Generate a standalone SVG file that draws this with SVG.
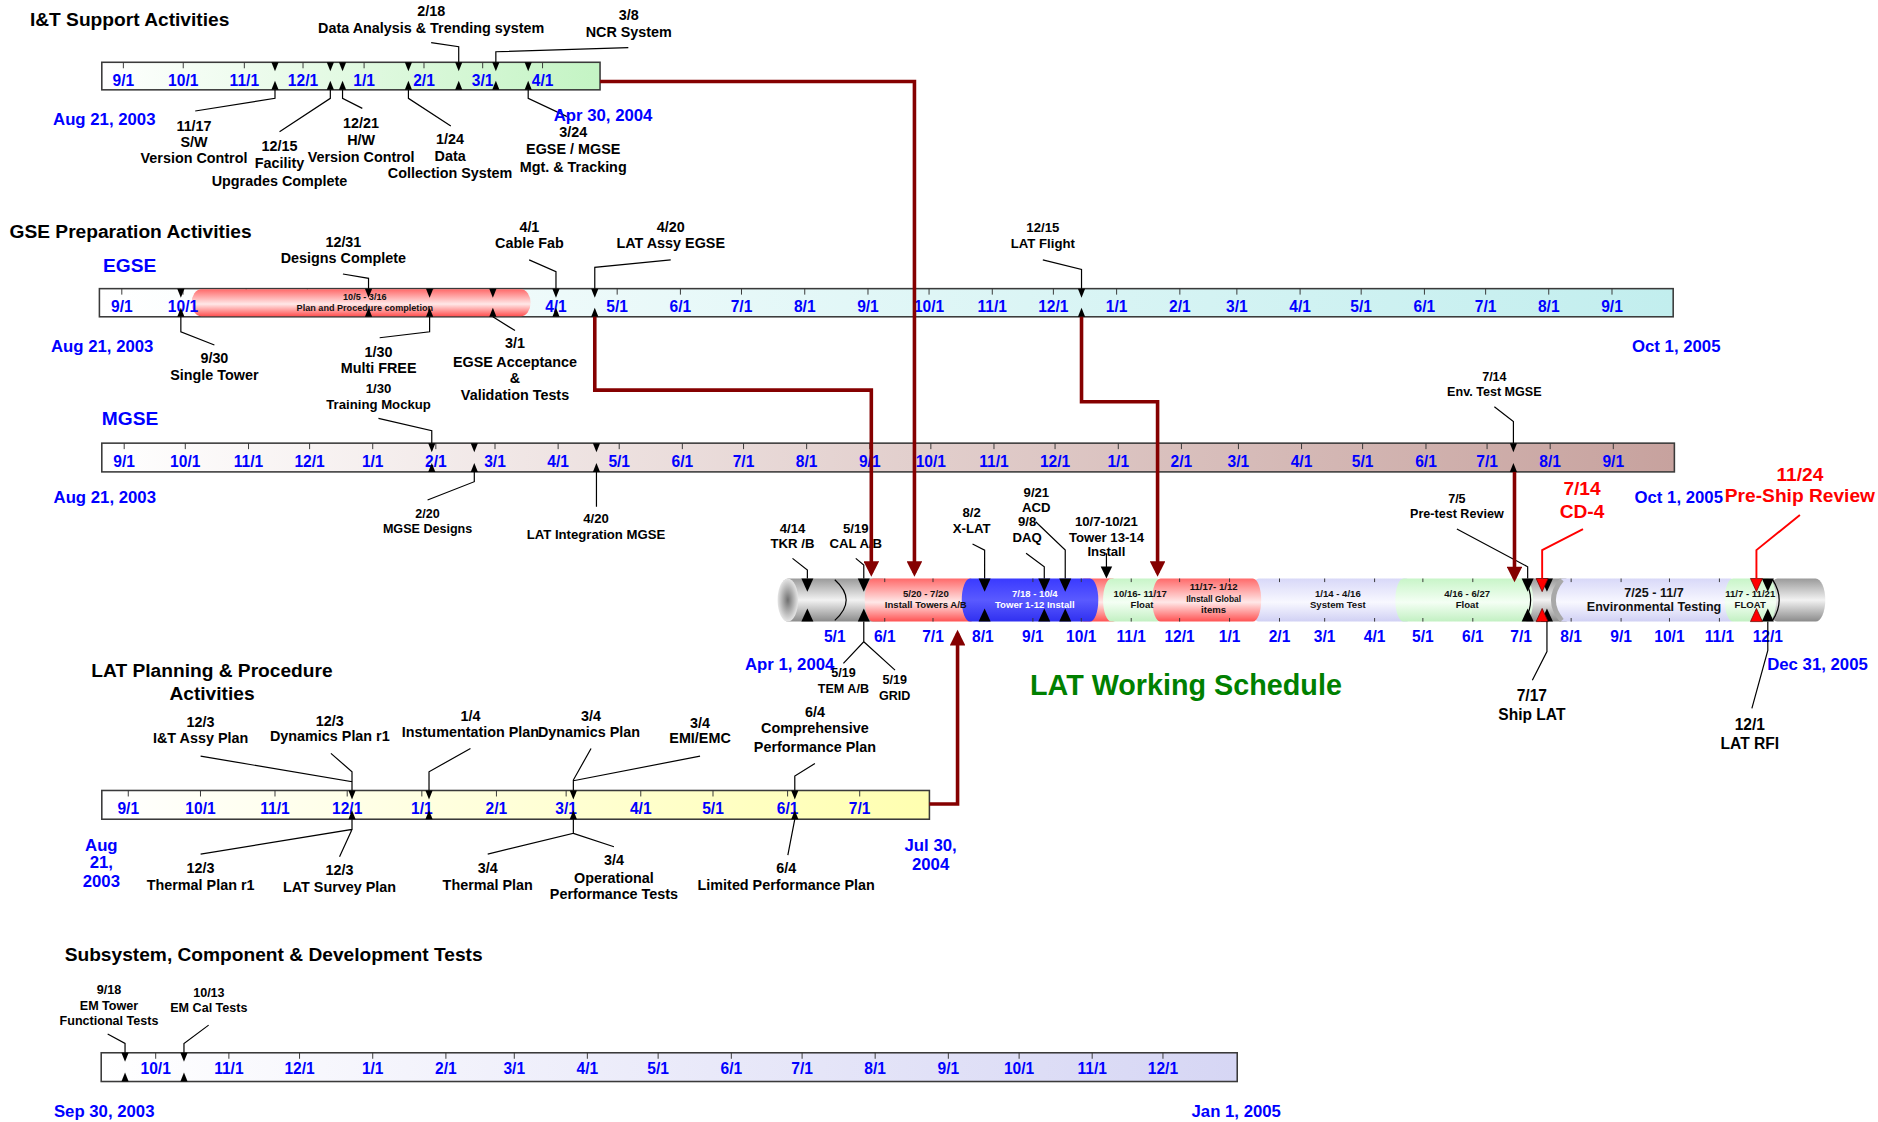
<svg xmlns="http://www.w3.org/2000/svg" xmlns:xlink="http://www.w3.org/1999/xlink" width="1878" height="1122" viewBox="0 0 1878 1122">
<style>
text{font-family:"Liberation Sans",Arial,sans-serif;font-weight:bold}
.h{font-size:16px;fill:#000}
.c12{font-size:12px;fill:#000;text-anchor:middle}
.c11{font-size:11px;fill:#000;text-anchor:middle}
.c10{font-size:10.5px;fill:#000;text-anchor:middle}
.c13{font-size:13px;fill:#000;text-anchor:middle}
.ml{font-size:13px;fill:#0000ff;text-anchor:middle}
.dt{font-size:14px;fill:#0000ff}
.dtc{font-size:14px;fill:#0000ff;text-anchor:middle}
.sec{font-size:16px;fill:#0000ff}
.seg{font-size:8px;fill:#111;text-anchor:middle}
.segw{font-size:8px;fill:#fff;text-anchor:middle}
.red{font-size:16px;fill:#ff0000;text-anchor:middle}
.bar{stroke:#3a3a3a;stroke-width:1.3}
.tick{stroke:#333;stroke-width:0.8;fill:none}
.lead{stroke:#000;stroke-width:1;fill:none}
.rlead{stroke:#ff0000;stroke-width:1.6;fill:none}
.tube{stroke:none}
</style>
<defs>
<linearGradient id="gIT" x1="0" y1="0" x2="1" y2="0"><stop offset="0" stop-color="#ffffff"/><stop offset="1" stop-color="#c4f4c4"/></linearGradient>
<linearGradient id="gEG" x1="0" y1="0" x2="1" y2="0"><stop offset="0" stop-color="#ffffff"/><stop offset="1" stop-color="#c2eeee"/></linearGradient>
<linearGradient id="gMG" x1="0" y1="0" x2="1" y2="0"><stop offset="0" stop-color="#ffffff"/><stop offset="1" stop-color="#c7a29e"/></linearGradient>
<linearGradient id="gPL" x1="0" y1="0" x2="1" y2="0"><stop offset="0" stop-color="#ffffff"/><stop offset="1" stop-color="#ffffb0"/></linearGradient>
<linearGradient id="gSS" x1="0" y1="0" x2="1" y2="0"><stop offset="0" stop-color="#ffffff"/><stop offset="1" stop-color="#d6d6f4"/></linearGradient>
<linearGradient id="tRed" x1="0" y1="0" x2="0" y2="1"><stop offset="0" stop-color="#ff6a6a"/><stop offset="0.55" stop-color="#ffe8e8"/><stop offset="1" stop-color="#ff5252"/></linearGradient>
<linearGradient id="tBlue" x1="0" y1="0" x2="0" y2="1"><stop offset="0" stop-color="#3a3aff"/><stop offset="0.5" stop-color="#5a5aff"/><stop offset="1" stop-color="#3030f0"/></linearGradient>
<linearGradient id="tGreen" x1="0" y1="0" x2="0" y2="1"><stop offset="0" stop-color="#c8f5c8"/><stop offset="0.55" stop-color="#f4fff4"/><stop offset="1" stop-color="#c2f0c2"/></linearGradient>
<linearGradient id="tLav" x1="0" y1="0" x2="0" y2="1"><stop offset="0" stop-color="#d8d8f8"/><stop offset="0.55" stop-color="#f8f8ff"/><stop offset="1" stop-color="#d0d0f4"/></linearGradient>
<linearGradient id="tGray" x1="0" y1="0" x2="0" y2="1"><stop offset="0" stop-color="#9a9a9a"/><stop offset="0.5" stop-color="#f2f2f2"/><stop offset="1" stop-color="#8a8a8a"/></linearGradient>
<radialGradient id="cap"><stop offset="0" stop-color="#707070"/><stop offset="1" stop-color="#e6e6e6"/></radialGradient>
<path id="tdn" d="M-3,0H3L0,7.5Z" fill="#000"/>
<path id="tup" d="M-3,0H3L0,-7.5Z" fill="#000"/>
<path id="bdn" d="M-5,0H5L0,11Z" fill="#000"/>
<path id="bup" d="M-5,0H5L0,-11Z" fill="#000"/>
<path id="rdn" d="M-5,0H5L0,11Z" fill="#ff0000" stroke="#600" stroke-width="0.6"/>
<path id="rup" d="M-5,0H5L0,-11Z" fill="#ff0000" stroke="#600" stroke-width="0.6"/>
<marker id="ah" viewBox="0 0 10 10" refX="7.6" refY="5" markerWidth="17" markerHeight="13" orient="auto" markerUnits="userSpaceOnUse"><path d="M0,0L10,5L0,10Z" fill="#850000"/></marker>
</defs>
<rect width="1878" height="1122" fill="#ffffff"/>
<g transform="scale(1.1977)">

<!-- I&T Support Activities -->
<g id="it-support">
<text class="h" x="25" y="22">I&amp;T Support Activities</text>
<rect class="bar" x="85" y="52" width="416" height="23" fill="url(#gIT)"/>
<path class="tick" d="M103,52v5M153,52v5M204,52v5M253,52v5M304,52v5M354,52v5M403,52v5M453,52v5"/>
<text class="ml" x="103" y="72">9/1</text><text class="ml" x="153" y="72">10/1</text><text class="ml" x="204" y="72">11/1</text><text class="ml" x="253" y="72">12/1</text><text class="ml" x="304" y="72">1/1</text><text class="ml" x="354" y="72">2/1</text><text class="ml" x="403" y="72">3/1</text><text class="ml" x="453" y="72">4/1</text>
<use href="#tdn" x="229.6" y="52"/><use href="#tup" x="229.6" y="75"/>
<use href="#tdn" x="275.8" y="52"/><use href="#tup" x="275.8" y="75"/>
<use href="#tdn" x="286" y="52"/><use href="#tup" x="286" y="75"/>
<use href="#tdn" x="341" y="52"/><use href="#tup" x="341" y="75"/>
<use href="#tdn" x="383" y="52"/><use href="#tup" x="383" y="75"/>
<use href="#tdn" x="414" y="52"/><use href="#tup" x="414" y="75"/>
<use href="#tdn" x="441" y="52"/><use href="#tup" x="441" y="75"/>
<path class="lead" d="M360,35.6L383,39V52M524.6,39.8L414,43.2V52M229.6,75V82.1L163,92.7M275.8,75V82.1L233.4,110M286,75V82.1L302.5,90.5M341,75V82.1L376.4,105.2M441,75V82.1L473.5,97.4"/>
<text class="c12" x="360" y="13">2/18</text><text class="c12" x="360" y="27.3">Data Analysis &amp; Trending system</text>
<text class="c12" x="525" y="17">3/8</text><text class="c12" x="525" y="31.2">NCR System</text>
<text class="c12" x="162" y="109">11/17</text><text class="c12" x="162" y="123">S/W</text><text class="c12" x="162" y="136.4">Version Control</text>
<text class="c12" x="233.4" y="125.8">12/15</text><text class="c12" x="233.4" y="140.5">Facility</text><text class="c12" x="233.4" y="155">Upgrades Complete</text>
<text class="c12" x="301.5" y="107">12/21</text><text class="c12" x="301.5" y="121">H/W</text><text class="c12" x="301.5" y="135">Version Control</text>
<text class="c12" x="375.8" y="120.2">1/24</text><text class="c12" x="375.8" y="134.2">Data</text><text class="c12" x="375.8" y="148.9">Collection System</text>
<text class="dt" x="44.3" y="104.4">Aug 21, 2003</text>
<text class="dt" x="462.3" y="100.8">Apr 30, 2004</text>
<text class="c12" x="478.6" y="114.1">3/24</text><text class="c12" x="478.6" y="128.6">EGSE / MGSE</text><text class="c12" x="478.6" y="143.3">Mgt. &amp; Tracking</text>
</g>

<!-- GSE Preparation: EGSE -->
<g id="egse">
<text class="h" x="8" y="199">GSE Preparation Activities</text>
<text class="sec" x="86" y="227">EGSE</text>
<rect class="bar" x="83" y="241" width="1314" height="23.5" fill="url(#gEG)"/>
<path class="tick" d="M101.7,241v5M152.8,241v5M205.5,241v5M256.6,241v5M309.4,241v5M362.1,241v5M411.5,241v5M464.2,241v5M515.3,241v5M568.1,241v5M619.1,241v5M671.9,241v5M724.7,241v5M775.7,241v5M828.5,241v5M879.5,241v5M932.3,241v5M985.1,241v5M1032.7,241v5M1085.5,241v5M1136.5,241v5M1189.3,241v5M1240.4,241v5M1293.1,241v5M1345.9,241v5"/>
<rect class="tube" x="160" y="241.5" width="283" height="22.5" rx="8" ry="11.25" fill="url(#tRed)"/>
<text class="ml" x="101.7" y="260.2">9/1</text><text class="ml" x="152.8" y="260.2">10/1</text><text class="ml" x="464.2" y="260.2">4/1</text><text class="ml" x="515.3" y="260.2">5/1</text><text class="ml" x="568.1" y="260.2">6/1</text><text class="ml" x="619.1" y="260.2">7/1</text><text class="ml" x="671.9" y="260.2">8/1</text><text class="ml" x="724.7" y="260.2">9/1</text><text class="ml" x="775.7" y="260.2">10/1</text><text class="ml" x="828.5" y="260.2">11/1</text><text class="ml" x="879.5" y="260.2">12/1</text><text class="ml" x="932.3" y="260.2">1/1</text><text class="ml" x="985.1" y="260.2">2/1</text><text class="ml" x="1032.7" y="260.2">3/1</text><text class="ml" x="1085.5" y="260.2">4/1</text><text class="ml" x="1136.5" y="260.2">5/1</text><text class="ml" x="1189.3" y="260.2">6/1</text><text class="ml" x="1240.4" y="260.2">7/1</text><text class="ml" x="1293.1" y="260.2">8/1</text><text class="ml" x="1345.9" y="260.2">9/1</text>
<text class="seg" x="304.6" y="250.5" style="font-size:7.6px">10/5 - 3/16</text>
<text class="seg" x="304.6" y="259.4" style="font-size:7.6px">Plan and Procedure completion</text>
<use href="#tdn" x="151" y="241"/><use href="#tup" x="151" y="264.5"/>
<use href="#tdn" x="307.7" y="241"/><use href="#tup" x="307.7" y="264.5"/>
<use href="#tdn" x="358.7" y="241"/><use href="#tup" x="358.7" y="264.5"/>
<use href="#tdn" x="411.5" y="241"/><use href="#tup" x="411.5" y="264.5"/>
<use href="#tdn" x="464.2" y="241"/><use href="#tup" x="464.2" y="264.5"/>
<use href="#tdn" x="496.6" y="241"/><use href="#tup" x="496.6" y="264.5"/>
<use href="#tdn" x="903" y="241"/><use href="#tup" x="903" y="264.5"/>
<path class="lead" d="M286.3,228.8L307.7,232.4V241M441.8,217L464.2,226.8V241M560,217L496.6,223.2V241M870.7,217L903,224.9V241M151,264.5V277L179,288M358.7,264.5V277L317,282M411.5,264.5L430,276"/>
<text class="c12" x="286.7" y="206">12/31</text><text class="c12" x="286.7" y="219.9">Designs Complete</text>
<text class="c12" x="442" y="193.4">4/1</text><text class="c12" x="442" y="207.4">Cable Fab</text>
<text class="c12" x="560" y="193.4">4/20</text><text class="c12" x="560" y="207.4">LAT Assy  EGSE</text>
<text class="c11" x="870.7" y="193.4">12/15</text><text class="c11" x="870.7" y="207.4">LAT Flight</text>
<text class="c12" x="179" y="303.4">9/30</text><text class="c12" x="179" y="317.3">Single Tower</text>
<text class="c12" x="316.1" y="297.8">1/30</text><text class="c12" x="316.1" y="311.7">Multi FREE</text>
<text class="c12" x="430" y="290.9">3/1</text><text class="c12" x="430" y="306.2">EGSE Acceptance</text><text class="c12" x="430" y="320.1">&amp;</text><text class="c12" x="430" y="334">Validation Tests</text>
<text class="dt" x="42.6" y="293.6">Aug 21, 2003</text>
<text class="dt" x="1362.6" y="293.6">Oct 1, 2005</text>
</g>

<!-- MGSE -->
<g id="mgse">
<text class="sec" x="85" y="355">MGSE</text>
<rect class="bar" x="85" y="370" width="1313" height="24" fill="url(#gMG)"/>
<path class="tick" d="M103.7,370v5M154.7,370v5M207.5,370v5M258.5,370v5M311.2,370v5M363.9,370v5M413.3,370v5M466,370v5M517,370v5M569.7,370v5M620.8,370v5M673.5,370v5M726.2,370v5M777.2,370v5M829.9,370v5M880.9,370v5M933.7,370v5M986.4,370v5M1034,370v5M1086.7,370v5M1137.7,370v5M1190.6,370v5M1241.6,370v5M1294.3,370v5M1347,370v5"/>
<text class="ml" x="103.7" y="389.7">9/1</text><text class="ml" x="154.7" y="389.7">10/1</text><text class="ml" x="207.5" y="389.7">11/1</text><text class="ml" x="258.5" y="389.7">12/1</text><text class="ml" x="311.2" y="389.7">1/1</text><text class="ml" x="363.9" y="389.7">2/1</text><text class="ml" x="413.3" y="389.7">3/1</text><text class="ml" x="466" y="389.7">4/1</text><text class="ml" x="517" y="389.7">5/1</text><text class="ml" x="569.7" y="389.7">6/1</text><text class="ml" x="620.8" y="389.7">7/1</text><text class="ml" x="673.5" y="389.7">8/1</text><text class="ml" x="726.2" y="389.7">9/1</text><text class="ml" x="777.2" y="389.7">10/1</text><text class="ml" x="829.9" y="389.7">11/1</text><text class="ml" x="880.9" y="389.7">12/1</text><text class="ml" x="933.7" y="389.7">1/1</text><text class="ml" x="986.4" y="389.7">2/1</text><text class="ml" x="1034" y="389.7">3/1</text><text class="ml" x="1086.7" y="389.7">4/1</text><text class="ml" x="1137.7" y="389.7">5/1</text><text class="ml" x="1190.6" y="389.7">6/1</text><text class="ml" x="1241.6" y="389.7">7/1</text><text class="ml" x="1294.3" y="389.7">8/1</text><text class="ml" x="1347" y="389.7">9/1</text>
<use href="#tdn" x="360.5" y="370"/><use href="#tup" x="360.5" y="394"/>
<use href="#tdn" x="396" y="370"/><use href="#tup" x="396" y="394"/>
<use href="#tdn" x="498" y="370"/><use href="#tup" x="498" y="394"/>
<use href="#tdn" x="1263.6" y="370"/><use href="#tup" x="1263.6" y="394"/>
<path class="lead" d="M316,349.3L360.5,359.6V370M396,394V402.2L357,417.5M498,394V423M1247.7,339.6L1263.6,352V370"/>
<text class="c11" x="316.1" y="327.9">1/30</text><text class="c11" x="316.1" y="341.3">Training Mockup</text>
<text class="c10" x="357" y="432.8">2/20</text><text class="c10" x="357" y="445.3">MGSE Designs</text>
<text class="c11" x="497.6" y="437">4/20</text><text class="c11" x="497.6" y="450.4">LAT Integration MGSE</text>
<text class="c10" x="1247.7" y="317.9">7/14</text><text class="c10" x="1247.7" y="330.7">Env. Test MGSE</text>
<text class="dt" x="44.7" y="420.3">Aug 21, 2003</text>
<text class="dt" x="1364.7" y="420">Oct 1, 2005</text>
</g>

<!-- LAT Working Schedule -->
<g id="lat-schedule">
<rect class="tube" x="650" y="483" width="95" height="36" rx="8" ry="18" fill="url(#tGray)"/>
<ellipse cx="657.8" cy="501" rx="8.6" ry="18" fill="url(#cap)"/>
<path class="lead" d="M697,484Q716,501 697,518"/>
<rect class="tube" x="722" y="483" width="95" height="36" rx="7" ry="18" fill="url(#tRed)"/>
<rect class="tube" x="898" y="483" width="38" height="36" rx="7" ry="18" fill="url(#tRed)"/>
<rect class="tube" x="803" y="483" width="114" height="36" rx="7" ry="18" fill="url(#tBlue)"/>
<rect class="tube" x="921" y="483" width="52" height="36" rx="7" ry="18" fill="url(#tGreen)"/>
<rect class="tube" x="1044" y="483" width="137" height="36" rx="7" ry="18" fill="url(#tLav)"/>
<rect class="tube" x="962" y="483" width="91" height="36" rx="7" ry="18" fill="url(#tRed)"/>
<rect class="tube" x="1268" y="483" width="46" height="36" rx="7" ry="18" fill="url(#tGray)"/>
<rect class="tube" x="1165" y="483" width="115" height="36" rx="7" ry="18" fill="url(#tGreen)"/>
<path class="lead" d="M1273,484Q1283,501 1273,518"/>
<rect class="tube" x="1298" y="483" width="154" height="36" rx="7" ry="18" fill="url(#tLav)"/>
<path d="M1304,484Q1290,501 1304,518" stroke="#a8a8a8" stroke-width="4" fill="none"/>
<rect class="tube" x="1476" y="483" width="48" height="36" rx="8" ry="18" fill="url(#tGray)"/>
<rect class="tube" x="1440" y="483" width="43" height="36" rx="7" ry="18" fill="url(#tGreen)"/>
<path class="lead" d="M1480,484Q1491,501 1480,518"/>
<path class="tick" stroke="#555" d="M738.7,483v3M779,483v3M862.4,483v3M902.8,483v3M944.5,483v3M984.9,483v3M1026.6,483v3M1068.3,483v3M1106,483v3M1147.7,483v3M1188,483v3M1229.7,483v3M1311.8,483v3M1353.5,483v3M1393.9,483v3M1435.6,483v3M738.7,516v3M779,516v3M862.4,516v3M902.8,516v3M944.5,516v3M984.9,516v3M1026.6,516v3M1068.3,516v3M1106,516v3M1147.7,516v3M1188,516v3M1229.7,516v3M1311.8,516v3M1353.5,516v3M1393.9,516v3M1435.6,516v3"/>
<text class="seg" x="773" y="498.2">5/20 - 7/20</text><text class="seg" x="773" y="508">Install Towers A/B</text>
<text class="segw" x="864" y="498.2">7/18 - 10/4</text><text class="segw" x="864" y="508">Tower 1-12 Install</text>
<text class="seg" x="952" y="498.2">10/16- 11/17</text><text class="seg" x="953.5" y="508">Float</text>
<text class="seg" x="1013.3" y="492.7">11/17- 1/12</text><text class="seg" x="1013.3" y="502.4" style="font-size:7px">Ilnstall Global</text><text class="seg" x="1013.3" y="512.1">items</text>
<text class="seg" x="1117" y="498.2">1/14 - 4/16</text><text class="seg" x="1117" y="508">System Test</text>
<text class="seg" x="1225" y="498.2">4/16 - 6/27</text><text class="seg" x="1225" y="508">Float</text>
<text class="seg" x="1381" y="498.2" style="font-size:10.5px">7/25 - 11/7</text><text class="seg" x="1381" y="509.9" style="font-size:10.5px">Environmental Testing</text>
<text class="seg" x="1461.3" y="498.2">11/7 - 11/21</text><text class="seg" x="1461.3" y="508">FLOAT</text>
<use href="#bdn" x="674.1" y="483"/><use href="#bup" x="674.1" y="519"/>
<use href="#bdn" x="721.2" y="483"/><use href="#bup" x="721.2" y="519"/>
<use href="#bdn" x="822.1" y="483"/><use href="#bup" x="822.1" y="519"/>
<use href="#bdn" x="871.9" y="483"/><use href="#bup" x="871.9" y="519"/>
<use href="#bdn" x="889.4" y="483"/><use href="#bup" x="889.4" y="519"/>
<use href="#bdn" x="1275.5" y="483"/><use href="#bup" x="1275.5" y="519"/>
<use href="#bdn" x="1291.6" y="483"/><use href="#bup" x="1291.6" y="519"/>
<use href="#bdn" x="1476" y="483"/><use href="#bup" x="1476" y="519"/>
<use href="#rdn" x="1287.6" y="483"/><use href="#rup" x="1287.6" y="519"/>
<use href="#rdn" x="1466.5" y="483"/><use href="#rup" x="1466.5" y="519"/>
<text class="ml" x="697" y="535.8">5/1</text><text class="ml" x="738.7" y="535.8">6/1</text><text class="ml" x="779" y="535.8">7/1</text><text class="ml" x="820.7" y="535.8">8/1</text><text class="ml" x="862.4" y="535.8">9/1</text><text class="ml" x="902.8" y="535.8">10/1</text><text class="ml" x="944.5" y="535.8">11/1</text><text class="ml" x="984.9" y="535.8">12/1</text><text class="ml" x="1026.6" y="535.8">1/1</text><text class="ml" x="1068.3" y="535.8">2/1</text><text class="ml" x="1106" y="535.8">3/1</text><text class="ml" x="1147.7" y="535.8">4/1</text><text class="ml" x="1188" y="535.8">5/1</text><text class="ml" x="1229.7" y="535.8">6/1</text><text class="ml" x="1270.1" y="535.8">7/1</text><text class="ml" x="1311.8" y="535.8">8/1</text><text class="ml" x="1353.5" y="535.8">9/1</text><text class="ml" x="1393.9" y="535.8">10/1</text><text class="ml" x="1435.6" y="535.8">11/1</text><text class="ml" x="1476" y="535.8">12/1</text>
<path class="lead" d="M661.7,466.2L674.1,476V483M714.5,466.2L721.2,471.8V483M812,454.2L822.1,459.3V483M856.7,462L871.9,473.2V483M864.7,435.6L889.4,459.3V483M923.8,462V474M1216.4,441.7L1275.5,473.2V483M721.2,519V535.8L704.2,553.9M721.2,535.8L747.3,559.5M1291.6,519V544L1279.4,568M1476,519V543L1462.7,591.5"/>
<path d="M919,473H928.6L923.8,483Z" fill="#000"/>
<text class="c11" x="661.7" y="445.3">4/14</text><text class="c11" x="661.7" y="457.5">TKR /B</text>
<text class="c11" x="714.5" y="445.3">5/19</text><text class="c11" x="714.5" y="457.5">CAL A/B</text>
<text class="c11" x="811.3" y="431.4">8/2</text><text class="c11" x="811.3" y="444.8">X-LAT</text>
<text class="c11" x="857.6" y="439.2">9/8</text><text class="c11" x="857.6" y="452.3">DAQ</text>
<text class="c11" x="865.3" y="414.7">9/21</text><text class="c11" x="865.3" y="427.2">ACD</text>
<text class="c11" x="923.8" y="439.2">10/7-10/21</text><text class="c11" x="923.8" y="452.3">Tower 13-14</text><text class="c11" x="923.8" y="464.3">Install</text>
<text class="c10" x="704.2" y="565">5/19</text><text class="c10" x="704.2" y="578.5">TEM A/B</text>
<text class="c10" x="747" y="571">5/19</text><text class="c10" x="747" y="584.5">GRID</text>
<text class="c10" x="1216.4" y="420.3">7/5</text><text class="c10" x="1216.4" y="432.8">Pre-test Review</text>
<text class="c13" x="1279" y="585">7/17</text><text class="c13" x="1279" y="601.2">Ship LAT</text>
<text class="c13" x="1461" y="609.6">12/1</text><text class="c13" x="1461" y="625.5">LAT RFI</text>
<path class="rlead" d="M1321.7,441.7L1287.6,459.3V483M1502.8,430L1466.5,459.3V483"/>
<text class="red" x="1320.9" y="413.3">7/14</text><text class="red" x="1320.9" y="432.3">CD-4</text>
<text class="red" x="1502.8" y="401.4">11/24</text><text class="red" x="1502.8" y="419.5">Pre-Ship Review</text>
<text class="dt" x="622" y="559.5">Apr 1, 2004</text>
<text class="dt" x="1475.5" y="559.5">Dec 31, 2005</text>
<text x="860" y="580.5" style="font-size:24px;fill:#008000">LAT Working Schedule</text>
</g>

<!-- LAT Planning & Procedure Activities -->
<g id="lat-planning">
<text class="h" x="177" y="565.6" text-anchor="middle">LAT Planning &amp; Procedure</text>
<text class="h" x="177" y="584.5" text-anchor="middle">Activities</text>
<rect class="bar" x="85" y="660" width="691" height="24" fill="url(#gPL)"/>
<path class="tick" d="M107.1,660v5M167.4,660v5M229.6,660v5M289.9,660v5M352.2,660v5M414.5,660v5M472.7,660v5M535,660v5M595.3,660v5M657.6,660v5M717.8,660v5"/>
<text class="ml" x="107.1" y="679.7">9/1</text><text class="ml" x="167.4" y="679.7">10/1</text><text class="ml" x="229.6" y="679.7">11/1</text><text class="ml" x="289.9" y="679.7">12/1</text><text class="ml" x="352.2" y="679.7">1/1</text><text class="ml" x="414.5" y="679.7">2/1</text><text class="ml" x="472.7" y="679.7">3/1</text><text class="ml" x="535" y="679.7">4/1</text><text class="ml" x="595.3" y="679.7">5/1</text><text class="ml" x="657.6" y="679.7">6/1</text><text class="ml" x="717.8" y="679.7">7/1</text>
<use href="#tdn" x="293.9" y="660"/><use href="#tup" x="293.9" y="684"/>
<use href="#tdn" x="358.2" y="660"/><use href="#tup" x="358.2" y="684"/>
<use href="#tdn" x="478.7" y="660"/><use href="#tup" x="478.7" y="684"/>
<use href="#tdn" x="663.6" y="660"/><use href="#tup" x="663.6" y="684"/>
<path class="lead" d="M167.5,631.3L293.9,652.7V660M276.3,629L293.9,644.4V660M392.8,624.9L358.2,644.4V660M493.5,624.9L478.7,651.3V660M584.5,631.3L478.7,651.9M680.4,637.4L663.6,648V660M293.9,684V692.5L167.5,713.1M293.9,692.5L283.5,715.3M478.7,684V695.8L407.2,713.1M478.7,695.8L512.6,707M663.6,684L657.8,713.9"/>
<text class="c12" x="167.5" y="606.8">12/3</text><text class="c12" x="167.5" y="620.1">I&amp;T Assy Plan</text>
<text class="c12" x="275.4" y="606.2">12/3</text><text class="c12" x="275.4" y="618.4">Dynamics Plan r1</text>
<text class="c12" x="392.8" y="601.8">1/4</text><text class="c12" x="392.8" y="615.7">Instumentation Plan</text>
<text class="c12" x="493.5" y="601.8">3/4</text><text class="c12" x="491.8" y="615.7">Dynamics Plan</text>
<text class="c12" x="584.5" y="608.2">3/4</text><text class="c12" x="584.5" y="620.7">EMI/EMC</text>
<text class="c12" x="680.4" y="598.4">6/4</text><text class="c12" x="680.4" y="612.3">Comprehensive</text><text class="c12" x="680.4" y="627.6">Performance Plan</text>
<text class="c12" x="167.5" y="728.7">12/3</text><text class="c12" x="167.5" y="743.2">Thermal Plan  r1</text>
<text class="c12" x="283.5" y="730.5">12/3</text><text class="c12" x="283.5" y="744.5">LAT Survey Plan</text>
<text class="c12" x="407.2" y="728.7">3/4</text><text class="c12" x="407.2" y="743.2">Thermal Plan</text>
<text class="c12" x="512.6" y="722.3">3/4</text><text class="c12" x="512.6" y="737.6">Operational</text><text class="c12" x="512.6" y="750.9">Performance Tests</text>
<text class="c12" x="656.4" y="728.7">6/4</text><text class="c12" x="656.4" y="743.2">Limited Performance Plan</text>
<text class="dtc" x="84.6" y="710.3">Aug</text><text class="dtc" x="84.6" y="725">21,</text><text class="dtc" x="84.6" y="741">2003</text>
<text class="dtc" x="777" y="710.3">Jul 30,</text><text class="dtc" x="777" y="726">2004</text>
</g>

<!-- Subsystem, Component & Development Tests -->
<g id="subsystem-tests">
<text class="h" x="54" y="802.2">Subsystem, Component &amp; Development Tests</text>
<rect class="bar" x="84.5" y="879" width="948.5" height="24" fill="url(#gSS)"/>
<path class="tick" d="M130,879v5M191.1,879v5M250.1,879v5M311.2,879v5M372.3,879v5M429.4,879v5M490.4,879v5M549.5,879v5M610.6,879v5M669.7,879v5M730.7,879v5M791.8,879v5M850.9,879v5M911.9,879v5M971,879v5"/>
<text class="ml" x="130" y="897">10/1</text><text class="ml" x="191.1" y="897">11/1</text><text class="ml" x="250.1" y="897">12/1</text><text class="ml" x="311.2" y="897">1/1</text><text class="ml" x="372.3" y="897">2/1</text><text class="ml" x="429.4" y="897">3/1</text><text class="ml" x="490.4" y="897">4/1</text><text class="ml" x="549.5" y="897">5/1</text><text class="ml" x="610.6" y="897">6/1</text><text class="ml" x="669.7" y="897">7/1</text><text class="ml" x="730.7" y="897">8/1</text><text class="ml" x="791.8" y="897">9/1</text><text class="ml" x="850.9" y="897">10/1</text><text class="ml" x="911.9" y="897">11/1</text><text class="ml" x="971" y="897">12/1</text>
<use href="#tdn" x="104.4" y="879"/><use href="#tup" x="104.4" y="903"/>
<use href="#tdn" x="153.6" y="879"/><use href="#tup" x="153.6" y="903"/>
<path class="lead" d="M89.9,863.4L104.4,871.2V879M174.2,855.9L153.6,871.2V879"/>
<text class="c10" x="91" y="830">9/18</text><text class="c10" x="91" y="843">EM Tower</text><text class="c10" x="91" y="856">Functional Tests</text>
<text class="c10" x="174.4" y="832.2">10/13</text><text class="c10" x="174.4" y="844.7">EM Cal Tests</text>
<text class="dt" x="45" y="932.4">Sep 30, 2003</text>
<text class="dt" x="1069.5" y="932.4" text-anchor="end">Jan 1, 2005</text>
</g>

<!-- Connectors -->
<g id="connectors" stroke="#850000" stroke-width="3" fill="none" stroke-linejoin="miter">
<path d="M501,68H763.5V478.5" marker-end="url(#ah)"/>
<path d="M496.6,264.5V325.7H727.5V478.5" marker-end="url(#ah)"/>
<path d="M903,264.5V335.4H966.5V478.5" marker-end="url(#ah)"/>
<path d="M1264.5,394V483" marker-end="url(#ah)"/>
<path d="M776,671.3H799.5V529" marker-end="url(#ah)"/>
</g>
</g>
</svg>
